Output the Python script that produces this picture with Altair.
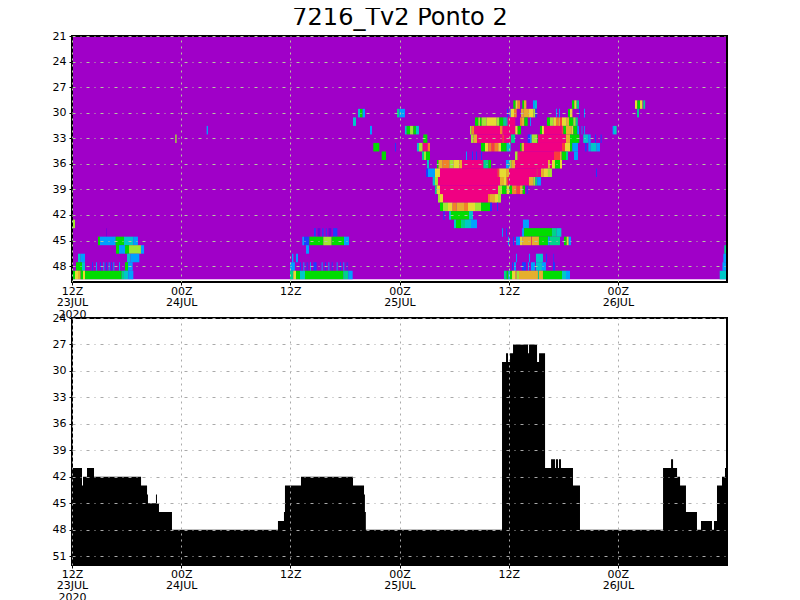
import altair as alt
import pandas as pd

TITLE = "7216_Tv2 Ponto 2"
TOP_LEVELS = [21, 24, 27, 30, 33, 36, 39, 42, 45, 48]
BOTTOM_LEVELS = [24, 27, 30, 33, 36, 39, 42, 45, 48, 51]
HOUR_TICKS = [0, 12, 24, 36, 48, 60]
HOUR_LABELS = [["12Z", "23JUL", "2020"], ["00Z", "24JUL"], ["12Z"], ["00Z", "25JUL"], ["12Z"], ["00Z", "26JUL"]]
RAINBOW = ["#a000c8", "#6e00dc", "#1e3cff", "#00a0ff", "#00c8c8", "#00d28c", "#00dc00",
           "#a0e632", "#e6dc32", "#e6af2d", "#f08228", "#fa3c3c", "#f00082"]

# (start hour, end hour, class) per level
L29 = [(48.51,48.77,6),(48.77,48.99,8),(48.99,49.25,10),(49.50,49.69,6),(49.69,49.94,9),(50.67,50.89,3),(50.89,51.11,4),
       (54.96,55.22,6),(55.22,55.47,8),(55.47,55.73,5),(61.89,62.14,8),(62.14,62.44,6),(62.44,62.7,8),(62.8,63.0,5)]
L30 = [(31.44,31.66,4),(31.66,31.95,6),(31.95,32.21,3),(35.73,35.98,5),(35.98,36.6,3),(47.82,47.93,2),(48.11,48.22,3),
       (48.22,48.59,8),(48.59,48.88,10),(49.36,49.61,9),(49.61,50.23,9),(50.23,50.71,8),(50.71,50.93,7),(50.93,51.08,2),
       (53.2,53.31,3),(53.53,53.64,3),(54.52,54.74,6),(54.74,55.0,8),(55.73,55.84,2),(56.28,56.39,3),(62.11,62.33,5)]
L31 = [(30.89,31.22,4),(44.3,44.67,6),(44.67,44.85,7),(44.85,45.03,6),(45.03,45.58,7),(45.58,45.95,8),(45.95,46.68,8),
       (46.68,46.97,7),(46.97,47.41,6),(47.41,47.78,5),(47.78,47.89,4),(47.89,48.73,12),(49.25,49.47,10),(49.47,49.72,9),
       (49.72,50.09,6),(50.35,50.45,3),(52.21,52.54,6),(52.54,52.91,7),(52.91,53.2,8),(53.2,53.46,10),(53.46,53.64,9),
       (53.64,53.86,11),(53.86,54.38,8),(54.38,54.63,9),(54.63,55.11,6),(55.11,55.37,7),(55.37,55.6,5)]
L32 = [(32.76,32.98,3),(36.6,36.79,4),(36.79,37.16,6),(37.16,37.52,7),(37.52,37.81,6),(37.81,38.14,4),(43.75,43.93,7),
       (43.93,44.23,10),(44.23,47.05,12),(47.05,47.34,10),(47.34,48.73,12),(48.73,48.99,8),(48.99,49.36,6),(51.44,51.66,6),
       (51.66,51.88,8),(51.88,53.83,12),(53.83,54.01,11),(54.01,54.3,6),(54.3,54.92,9),(54.92,55.11,8),(55.11,55.55,6),
       (55.55,55.73,3),(56.02,56.1,3),(56.3,56.39,3),(59.43,59.58,3),(59.58,59.87,4),(14.8,14.95,3)]
L33 = [(11.35,11.5,7),(38.62,39.06,6),(43.86,44.12,7),(44.12,44.52,9),(44.52,47.3,12),(47.3,47.48,11),(47.48,48.22,12),
       (48.26,48.7,5),(50.09,50.35,2),(50.35,50.53,3),(50.53,51.15,7),(51.15,51.22,6),(51.22,54.3,12),(54.3,54.74,9),
       (54.74,55.77,6),(56.2,56.76,4),(56.76,57.01,3),(57.49,57.6,2),(58.11,58.22,2)]
L34 = [(33.12,33.78,6),(35.51,35.62,2),(37.92,38.14,4),(38.14,38.55,7),(38.55,39.1,12),(39.1,39.35,10),(44.96,45.4,6),
       (45.4,45.77,8),(45.77,46.13,10),(46.13,46.42,11),(46.42,46.86,10),(46.86,47.16,8),(47.16,47.78,6),(47.78,48.22,4),
       (49.25,49.43,6),(49.43,49.69,9),(49.69,53.86,12),(53.86,54.19,11),(54.19,54.74,8),(54.74,55.0,6),(55.0,55.62,3),
       (56.39,56.57,2),(56.76,57.01,3),(57.01,57.67,4),(57.67,58.04,3)]
L35 = [(34.04,34.52,6),(38.47,38.69,5),(38.69,38.91,7),(38.91,39.35,6),(43.31,43.42,3),(43.97,44.08,2),(44.41,44.52,2),
       (44.96,45.07,2),(48.7,48.99,7),(48.99,52.98,12),(52.98,53.64,11),(53.64,53.83,9),(53.83,54.3,6),(54.3,54.52,5),
       (55.18,55.62,3)]
L36 = [(39.02,39.24,4),(40.12,40.3,6),(40.3,40.75,9),(40.75,41.48,10),(41.48,41.92,7),(41.92,42.58,8),(42.58,42.87,9),
       (42.87,45.22,12),(45.22,45.77,5),(45.77,46.06,6),(47.7,47.96,3),(47.96,48.15,4),(48.15,48.33,7),(48.33,48.7,9),
       (48.7,52.32,12),(52.32,52.54,9),(52.54,52.76,12),(52.76,53.09,8),(53.09,53.64,6),(53.64,53.86,8)]
L37 = [(38.91,39.13,2),(39.13,39.9,3),(39.9,40.45,8),(40.45,46.75,12),(46.75,46.97,11),(46.97,47.71,8),(47.71,48.04,9),
       (48.04,51.08,12),(51.08,51.19,11),(51.19,51.55,12),(51.55,51.88,9),(51.88,52.32,8),(52.32,52.76,7),(57.6,57.71,2)]
L38 = [(39.65,39.9,4),(39.9,40.23,7),(40.23,47.05,12),(47.05,47.49,9),(47.49,47.78,8),(47.78,47.96,11),(47.96,50.23,12),
       (50.23,50.71,9),(50.71,50.93,7),(50.93,51.15,5),(51.15,51.55,3)]
L39 = [(39.9,40.09,5),(40.09,40.45,8),(40.45,46.83,12),(46.83,47.27,7),(47.27,47.78,6),(47.78,48.07,8),(48.07,48.37,6),
       (48.37,48.88,10),(48.88,49.25,11),(49.25,49.54,9),(49.54,49.8,6),(49.98,50.09,2)]
L40 = [(40.23,40.45,7),(40.45,40.78,8),(40.78,45.73,12),(45.73,45.95,10),(45.95,46.5,9),(46.5,46.83,8),(46.83,47.16,7)]
L41 = [(40.45,40.78,6),(40.78,41.33,7),(41.33,41.84,8),(41.84,42.28,10),(42.28,43.09,9),(43.09,43.53,10),(43.53,44.3,8),
       (44.3,44.96,7),(44.96,45.95,6),(45.95,46.17,2),(46.72,46.83,2)]
L42 = [(40.82,40.96,2),(41.44,41.66,4),(41.66,43.64,6),(43.64,44.08,4)]
L43 = [(0.11,0.33,7),(41.99,42.21,4),(42.21,42.76,6),(42.76,43.2,5),(43.2,43.86,4),(43.86,44.52,3),(49.57,50.23,3)]
L44 = [(3.77,3.85,1),(26.6,26.8,2),(27.0,27.3,1),(27.5,27.65,2),(27.9,28.0,2),(28.2,28.5,1),(28.7,29.17,2),
       (47.27,47.38,3),(47.71,47.82,2),(49.47,49.69,3),(49.69,52.76,6),(52.76,53.28,5),(53.28,53.79,4)]
L45 = [(2.86,3.08,6),(3.08,3.63,3),(3.63,4.8,3),(4.8,5.72,6),(5.72,6.74,4),(6.74,7.25,3),(25.32,25.5,3),(25.5,26.09,2),
       (26.09,27.63,6),(27.63,28.54,7),(28.54,29.9,6),(29.9,30.45,3),(47.93,48.04,3),
       (48.48,48.59,2),(48.81,49.25,3),(49.25,49.54,8),(49.54,50.49,9),(50.49,50.56,11),(50.56,51.33,9),(51.33,52.32,6),
       (52.32,52.5,3),(52.5,53.64,5),(54.08,54.38,6),(54.38,54.6,8),(54.6,54.85,3)]
L46 = [(4.84,5.17,6),(5.17,5.83,3),(5.83,6.27,6),(6.27,7.58,7),(7.58,7.92,3),(25.72,26.05,3),(71.7,72,5)]
L47 = [(0.66,0.95,4),(0.95,1.43,3),(6.05,6.43,4),(6.43,7.4,3),(24.18,24.33,3),(24.62,24.84,3),(48.81,48.92,3),(50.23,50.35,3),
       (51.0,51.77,4),(52.1,52.21,2),(52.91,52.99,2),(71.6,72,3)]
L48 = [(0.44,1.1,6),(1.1,1.43,4),(2.2,2.3,2),(2.64,2.75,3),(3.08,3.19,2),(3.44,3.55,3),(3.74,3.85,2),(4.03,4.14,3),
       (4.29,4.4,2),(4.54,4.65,3),(5.17,5.28,3),(5.83,6.16,6),(6.16,6.67,3),(23.96,24.5,3),(25.06,25.17,2),(25.43,25.54,3),
       (25.79,25.9,2),(26.16,26.27,3),(26.53,26.89,2),(27.44,27.55,3),(27.81,27.92,2),(28.18,28.29,3),(28.54,28.65,2),
       (29.09,29.2,3),(29.46,29.57,2),(29.82,29.93,3),(30.19,30.3,2),(48.37,48.48,2),(48.59,48.81,3),(49.47,49.9,2),
       (50.12,50.23,3),(50.45,50.89,3),(51.0,51.66,4),(51.66,52.1,3),(52.87,53.09,2),(71.5,72,3)]
L49 = [(0.11,0.33,6),(0.33,0.66,8),(0.66,0.95,9),(0.95,1.21,6),(1.21,1.43,8),(1.43,5.46,6),(5.46,5.72,5),(5.72,6.19,4),
       (6.19,6.74,3),(23.96,24.33,5),(24.33,24.62,8),(24.62,25.06,6),(25.06,25.61,4),(25.61,29.82,6),(29.82,30.38,5),
       (30.38,30.85,3),(47.49,47.78,5),(47.78,47.96,6),(47.96,48.15,4),(48.15,48.37,6),(48.37,48.73,8),(48.73,48.88,9),
       (48.88,49.14,7),(49.14,51.22,9),(51.22,51.33,5),(51.33,51.77,9),(51.77,53.86,6),(53.86,54.3,4),(54.3,54.74,3),(71.2,72,4)]
TOP_ROWS = {29: L29, 30: L30, 31: L31, 32: L32, 33: L33, 34: L34, 35: L35, 36: L36, 37: L37, 38: L38, 39: L39,
            40: L40, 41: L41, 42: L42, 43: L43, 44: L44, 45: L45, 46: L46, 47: L47, 48: L48, 49: L49}

# hour at which each step of the black column starts, and the level of its top
COLUMN_HOURS = [0,1.1,1.21,1.65,2.42,7.59,8.25,8.35,9.23,9.34,9.56,10.99,22.64,23.3,23.41,25.17,30.89,32.1,32.2,32.3,
                47.27,47.71,47.93,48.15,48.48,50.13,50.24,51.12,51.34,52.0,52.66,53.1,53.2,53.42,53.53,53.75,55.07,55.84,
                64.97,65.85,66.07,66.51,66.84,67.49,68.7,69.14,70.35,70.57,70.9,71.45,71.78,72]
COLUMN_TOPS = [41,43,42,41,42,43,44,45,44,45,46,48,47,46,43,42,43,44,46,48,
               29,28,29,28,27,28,27,29,28,41,40,41,40,41,40,41,43,48,
               41,40,41,42,43,46,48,47,48,47,43,42,41,41]

cells = pd.DataFrame(
    [{"t0": a, "t1": b, "cls": c, "y0": lev - 0.45, "y1": lev + 0.55}
     for lev, row in TOP_ROWS.items() for a, b, c in row])
back = pd.DataFrame({"t0": [0], "t1": [72], "y0": [21], "y1": [49.55], "cls": [0]})
cols = pd.DataFrame({"t0": COLUMN_HOURS, "lev": COLUMN_TOPS, "base": 52})

label_map = "{" + ",".join(f"'{h}':{lab}" for h, lab in zip(HOUR_TICKS, HOUR_LABELS)) + "}"
FONT = "DejaVu Sans"


def xaxis(color):
    return alt.Axis(values=HOUR_TICKS, labelExpr=f"{label_map}[datum.value]", title=None, grid=True, gridColor=color,
                    gridDash=[2, 4], gridWidth=1, tickColor="black", tickSize=3, tickWidth=1, domain=False,
                    labelFont=FONT, labelFontSize=11, labelLineHeight=11.5, labelColor="black", labelPadding=0,
                    labelFlush=False, labelOverlap=False, labelBaseline="top", tickCount=20, zindex=1)


def yaxis(vals, color):
    return alt.Axis(values=vals, title=None, grid=True, gridColor=color, gridDash=[3, 5, 1, 5], gridWidth=1,
                    tickColor="black", tickSize=3, tickWidth=1, domain=False, labelFont=FONT, labelFontSize=11,
                    labelColor="black", labelPadding=3, minExtent=50, maxExtent=50, labelOverlap=False,
                    labelFlush=False, tickCount=20, zindex=1)


W, H = 655, 246
xs = alt.Scale(domain=[0, 72], nice=False, zero=False)
xt = alt.X("t0:Q", scale=xs, axis=xaxis("#b4c8a0"))
yt = alt.Y("y0:Q", scale=alt.Scale(domain=[21, 49.87], reverse=True, nice=False, zero=False),
           axis=yaxis(TOP_LEVELS, "#b4c8a0"))
colour = alt.Color("cls:O", scale=alt.Scale(domain=list(range(13)), range=RAINBOW), legend=None)

top_frame = alt.Chart(pd.DataFrame({"t0": [0], "t1": [72], "y0": [21], "y1": [49.87]})).mark_rect(
    filled=False, stroke="black", strokeWidth=2).encode(x=alt.X("t0:Q"), x2="t1:Q", y=alt.Y("y0:Q"), y2="y1:Q")
top = alt.layer(
    alt.Chart(back).mark_rect().encode(x=xt, x2="t1:Q", y=yt, y2="y1:Q", color=colour),
    alt.Chart(cells).mark_rect().encode(x=xt, x2="t1:Q", y=yt, y2="y1:Q", color=colour),
    top_frame,
).properties(width=W, height=H)

xb = alt.X("t0:Q", scale=xs, axis=xaxis("#aaaaaa"))
yb = alt.Y("lev:Q", scale=alt.Scale(domain=[24, 52], reverse=True, nice=False, zero=False),
           axis=yaxis(BOTTOM_LEVELS, "#aaaaaa"))
bot_frame = alt.Chart(pd.DataFrame({"t0": [0], "t1": [72], "lev": [24], "base": [52]})).mark_rect(
    filled=False, stroke="black", strokeWidth=2).encode(x=alt.X("t0:Q"), x2="t1:Q", y=alt.Y("lev:Q"), y2="base:Q")
bottom = alt.layer(
    alt.Chart(cols).mark_area(color="black", interpolate="step-after").encode(x=xb, y=yb, y2="base:Q"),
    bot_frame,
).properties(width=W, height=H + 1)

chart = alt.vconcat(top, bottom, spacing=36, bounds="flush").properties(
    title=alt.TitleParams(TITLE, font=FONT, fontSize=24, fontWeight="normal", color="black", anchor="middle",
                          offset=0, dx=25),
    padding={"left": 14, "top": -2, "right": 0, "bottom": 0},
    background="white",
).configure_view(stroke=None)

chart.save("out.html", embed_options={"renderer": "svg", "actions": False})
